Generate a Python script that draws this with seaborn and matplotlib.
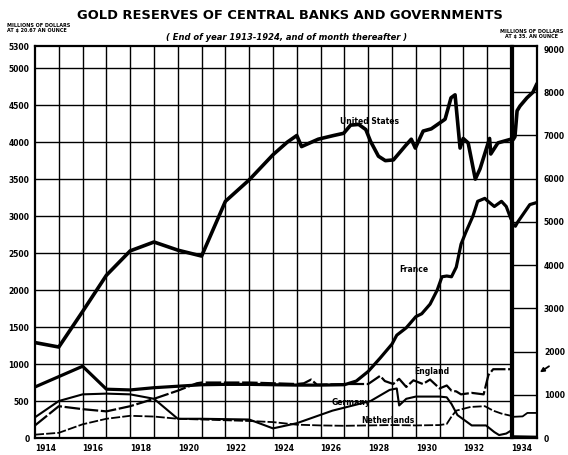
import pandas as pd
import matplotlib.pyplot as plt
import seaborn as sns
import numpy as np

# gold reserves, millions of dollars at $20.67 an ounce (1914 = end of 1913)
us_years = [1914, 1915, 1916, 1917, 1918, 1919, 1920, 1921, 1922, 1923, 1924, 1924.6, 1925,
            1925.2, 1925.9, 1926.55, 1926.97, 1927.26, 1927.6, 1927.9, 1928.1, 1928.43, 1928.72,
            1929.06, 1929.56, 1929.81, 1929.98, 1930.31, 1930.65, 1931.23, 1931.48, 1931.65,
            1931.86, 1931.99, 1932.2, 1932.5, 1932.7, 1933.1, 1933.15, 1933.45, 1934.0]
us_gold = [1290, 1230, 1710, 2200, 2530, 2650, 2540, 2460, 3200, 3490, 3830, 4000, 4090,
           3940, 4040, 4090, 4120, 4230, 4240, 4170, 4010, 3810, 3750,
           3760, 3950, 4040, 3920, 4150, 4180, 4310, 4600, 4640,
           3920, 4050, 3990, 3500, 3640, 4050, 3840, 3990, 4040]

fr_years = [1914, 1915, 1916, 1917, 1918, 1919, 1920, 1921, 1922, 1923, 1924, 1925, 1926, 1927,
            1927.5, 1928, 1928.5, 1929, 1929.2, 1929.6, 1930.0, 1930.25, 1930.6, 1930.9, 1931.1,
            1931.3, 1931.5, 1931.7, 1931.9, 1932.1, 1932.4, 1932.6, 1932.9, 1933.0, 1933.3,
            1933.6, 1933.8, 1934.0]
fr_gold = [690, 830, 970, 660, 650, 680, 700, 720, 725, 725, 720, 715, 715, 720,
           770, 900, 1080, 1270, 1390, 1490, 1640, 1680, 1810, 2000, 2180,
           2190, 2180, 2310, 2620, 2780, 3000, 3200, 3240, 3210, 3130,
           3200, 3130, 2960]

en_years = [1914, 1915, 1916, 1917, 1918, 1919, 1920, 1920.8, 1921, 1922, 1923, 1924, 1925,
            1925.3, 1925.6, 1925.85, 1927.1, 1928.0, 1928.5, 1928.7, 1929.05, 1929.3, 1929.6,
            1929.9, 1930.3, 1930.6, 1931.0, 1931.3, 1931.5, 1931.7, 1931.9, 1932.35, 1932.85,
            1933.05, 1933.25, 1934.0]
en_gold = [170, 430, 390, 360, 430, 530, 640, 740, 750, 750, 750, 740, 730,
           740, 790, 720, 730, 730, 840, 770, 730, 800, 690,
           780, 730, 790, 670, 710, 640, 630, 590, 610, 590,
           850, 930, 930]

de_years = [1914, 1915, 1916, 1917, 1918, 1919, 1920, 1921, 1922, 1923, 1924, 1925, 1926.5,
            1928.1, 1928.9, 1929.2, 1929.3, 1929.6, 1930.0, 1931.0, 1931.3, 1931.5, 1931.75,
            1932.35, 1932.95, 1933.3, 1933.5, 1933.8, 1934.0]
de_gold = [280, 500, 590, 600, 590, 530, 260, 260, 255, 250, 130, 200, 370,
           500, 650, 670, 440, 530, 560, 560, 550, 460, 310,
           170, 170, 80, 40, 60, 100]

nl_years = [1914, 1915, 1916, 1917, 1918, 1919, 1920, 1921, 1922, 1923, 1924, 1925, 1926, 1927,
            1928, 1929, 1930, 1931, 1931.3, 1931.5, 1931.7, 1932.3, 1932.9, 1933.25, 1933.6, 1934.0]
nl_gold = [45, 70, 185, 260, 300, 290, 260, 250, 240, 230, 215, 180, 170, 165,
           170, 175, 170, 175, 190, 290, 370, 420, 430, 370, 330, 300]

# 1934 panel, millions of dollars at $35 an ounce
us_years_34 = [1934.0, 1934.08, 1934.17, 1934.29, 1934.58, 1934.83, 1935.0]
us_gold_34 = [6900, 6970, 7570, 7680, 7870, 8000, 8200]
fr_years_34 = [1934.0, 1934.1, 1934.2, 1934.45, 1934.7, 1935.0]
fr_gold_34 = [4950, 4900, 5000, 5200, 5400, 5450]
nl_years_34 = [1934.0, 1934.4, 1934.6, 1935.0]
nl_gold_34 = [490, 500, 580, 580]
de_years_34 = [1934.0, 1935.0]
de_gold_34 = [40, 30]
en_level_34 = 1580  # marked by the arrow at the right

sns.set_style("white")
plt.rcParams["font.family"] = ["DejaVu Sans"]
plt.rcParams["text.color"] = "black"
plt.rcParams["xtick.color"] = "black"
plt.rcParams["ytick.color"] = "black"

fig = plt.figure(figsize=(5.68, 4.55), dpi=100)
ax = fig.add_axes([35 / 568, 17 / 455, 476 / 568, 392 / 455])
ax34 = fig.add_axes([513 / 568, 17 / 455, 24 / 568, 392 / 455])

# grid
for yr in range(1915, 1934):
    ax.axvline(yr, color="black", lw=1.0, zorder=1)
for v in range(500, 5500, 500):
    ax.axhline(v, color="black", lw=1.0, zorder=1)
for v in range(1000, 9000, 1000):
    ax34.axhline(v, color="black", lw=1.0, zorder=1)

# series
series = [
    (us_years, us_gold, 2.6, "-"),
    (fr_years, fr_gold, 2.3, "-"),
    (en_years, en_gold, 1.6, (0, (7, 1.2))),
    (de_years, de_gold, 1.5, "-"),
    (nl_years, nl_gold, 1.3, (0, (5, 1.2))),
]
for yrs, vals, lw, ls in series:
    sns.lineplot(x=yrs, y=vals, ax=ax, color="black", linewidth=lw, linestyle=ls,
                 estimator=None, sort=False, zorder=3)

series34 = [
    (us_years_34, us_gold_34, 2.6),
    (fr_years_34, fr_gold_34, 2.3),
    (nl_years_34, nl_gold_34, 1.3),
    (de_years_34, de_gold_34, 1.5),
]
for yrs, vals, lw in series34:
    sns.lineplot(x=yrs, y=vals, ax=ax34, color="black", linewidth=lw,
                 estimator=None, sort=False, zorder=3)

ax.set_xlim(1914, 1934)
ax.set_ylim(0, 5300)
ax34.set_xlim(1934, 1935)
ax34.set_ylim(0, 9070)

tick_font = dict(fontsize=5.5, fontweight="bold")
ax.set_yticks(list(range(0, 5500, 500)) + [5300])
ax.set_yticklabels([str(v) for v in range(0, 5500, 500)] + ["5300"], **tick_font)
ax.set_xticks(range(1914, 1935, 2))
ax.set_xticklabels([str(y) for y in range(1914, 1935, 2)], ha="left", **tick_font)
ax.tick_params(length=0, pad=4)

ax34.set_xticks([])
ax34.yaxis.tick_right()
ax34.set_yticks(range(0, 10000, 1000))
ax34.set_yticklabels([str(v) for v in range(0, 10000, 1000)], **tick_font)
ax34.tick_params(length=0, pad=5)

for a in (ax, ax34):
    for s in a.spines.values():
        s.set_color("black")
        s.set_linewidth(1.6)
    a.set_xlabel("")
    a.set_ylabel("")

ax34.text(0.45, 8850, "1934", fontsize=3.5, fontweight="bold", ha="center", va="top")
ax34.annotate("", xy=(1.12, en_level_34 - 60), xytext=(1.5, en_level_34 + 80),
              xycoords=("axes fraction", "data"),
              arrowprops=dict(arrowstyle="-|>", color="black", lw=1.3, mutation_scale=6,
                              shrinkA=0, shrinkB=0),
              annotation_clip=False)

# line labels
lab = dict(fontsize=5.5, fontweight="bold", zorder=4)
ax.text(1926.8, 4250, "United States", **lab)
ax.text(1929.3, 2240, "France", **lab)
ax.text(1929.95, 860, "England", **lab)
ax.text(1926.45, 440, "Germany", **lab)
ax.text(1927.7, 200, "Netherlands", **lab)

fig.text(0.51, 0.967, "GOLD RESERVES OF CENTRAL BANKS AND GOVERNMENTS",
         ha="center", va="center", fontsize=9.4, fontweight="bold")
fig.text(0.505, 0.918, "( End of year 1913-1924, and of month thereafter )",
         ha="center", va="center", fontsize=6.0, fontweight="bold", style="italic")
fig.text(0.012, 0.95, "MILLIONS OF DOLLARS\nAT \\$ 20.67 AN OUNCE",
         ha="left", va="top", fontsize=3.5, fontweight="bold", linespacing=1.0)
fig.text(0.992, 0.937, "MILLIONS OF DOLLARS\nAT \\$ 35. AN OUNCE",
         ha="right", va="top", fontsize=3.5, fontweight="bold", linespacing=1.0,
         multialignment="center")

fig.savefig("out.png", dpi=100)
